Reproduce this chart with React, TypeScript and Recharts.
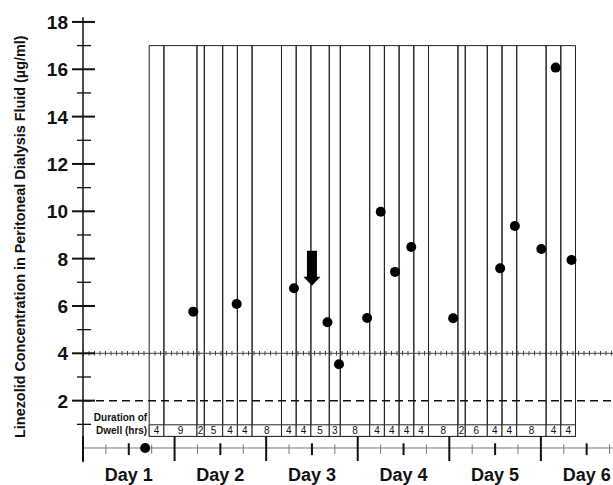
import {
  ComposedChart,
  XAxis,
  YAxis,
  Scatter,
  ReferenceArea,
  ReferenceLine,
  ReferenceDot,
} from "recharts";

const FONT = "'Liberation Sans', Arial, Helvetica, sans-serif";

// dwell durations (hrs), left to right, first dwell starts at hour 17
const FIRST_DWELL_START = 17;
const DWELL_HOURS = [4, 9, 2, 5, 4, 4, 8, 4, 4, 5, 3, 8, 4, 4, 4, 4, 8, 2, 6, 4, 4, 8, 4, 4];

// linezolid samples: time (hrs) and concentration (ug/ml)
const SAMPLE_HOURS = [15.9, 29, 40.8, 56.4, 65.5, 68.65, 76.3, 80, 83.9, 88.3, 99.7, 112.5, 116.5, 123.7, 127.6, 131.9];
const SAMPLE_CONC = [0, 5.76, 6.08, 6.75, 5.31, 3.54, 5.49, 9.98, 7.44, 8.49, 5.48, 7.59, 9.38, 8.41, 16.07, 7.94];

// time axis
const DAY_LABELS = ["Day 1", "Day 2", "Day 3", "Day 4", "Day 5", "Day 6"];
const DAY_NOONS = [12, 36, 60, 84, 108, 132];
const DAY_STARTS = [0, 24, 48, 72, 96, 120];
const SIX_HOUR_TICKS = [6, 18, 30, 42, 54, 66, 78, 90, 102, 114, 126, 138];

const Y_TICKS = [1, 2, 3, 4, 5, 6, 7, 8, 9, 10, 11, 12, 13, 14, 15, 16, 17, 18];
const TARGET_MIC = 4;
const LOWER_MIC = 2;
const BOX_TOP = 17;
const CELL_TOP = 0.98;
const CELL_BOTTOM = 0.49;
const ARROW_HOUR = 60;
const ARROW_TIP = 6.85;

const dwells = DWELL_HOURS.map((h, i) => {
  const start = FIRST_DWELL_START + DWELL_HOURS.slice(0, i).reduce((a, b) => a + b, 0);
  return { start, end: start + h, hours: h };
});

const samples = SAMPLE_HOURS.map((t, i) => ({ t, c: SAMPLE_CONC[i] }));

const YTick = (props: any) => {
  const { x, y, payload } = props;
  const v = payload.value;
  const major = v % 2 === 0;
  return (
    <g>
      <line
        x1={x - (major ? 11 : 6)}
        x2={x + (major ? 12 : 8)}
        y1={y}
        y2={y}
        stroke="#111"
        strokeWidth={major ? 2 : 1.3}
      />
      {major && (
        <text x={x - 15} y={y} dy={7} textAnchor="end" fontSize={19} fontWeight="bold" fill="#111" fontFamily={FONT}>
          {v}
        </text>
      )}
    </g>
  );
};

const DayTick = (props: any) => {
  const { x, y, index } = props;
  return (
    <text x={x} y={y} dy={19} textAnchor="middle" fontSize={18} fontWeight="bold" fill="#111" fontFamily={FONT}>
      {DAY_LABELS[index]}
    </text>
  );
};

const renderTitle = (props: any) => {
  const vb = props.viewBox;
  const cx = vb.x + 25;
  const cy = vb.y + vb.height / 2 - 3;
  return (
    <text
      x={cx}
      y={cy}
      transform={`rotate(-90, ${cx}, ${cy})`}
      textAnchor="middle"
      fontSize={14.4}
      fontWeight="bold"
      fill="#111"
      fontFamily={FONT}
    >
      Linezolid Concentration in Peritoneal Dialysis Fluid (µg/ml)
    </text>
  );
};

export default function App() {
  return (
    <div style={{ position: "absolute", left: 0, top: 0, width: 613, height: 485, background: "#fff" }}>
      <ComposedChart width={613} height={485} margin={{ top: 17.2, right: 0, bottom: 0, left: 0 }}>
        <XAxis
          xAxisId="day"
          type="number"
          dataKey="t"
          domain={[0, 138.9]}
          ticks={DAY_NOONS}
          axisLine={false}
          tickLine={false}
          tickSize={0}
          tickMargin={0}
          height={22.8}
          tick={<DayTick />}
          allowDataOverflow
        />
        <XAxis xAxisId="dwell" type="number" dataKey="t" domain={[-1.01, 143.2]} hide allowDataOverflow />
        <YAxis
          type="number"
          domain={[-0.6, 18.2]}
          ticks={Y_TICKS}
          width={83}
          tickSize={0}
          tickMargin={0}
          tickLine={false}
          axisLine={{ stroke: "#111", strokeWidth: 1.5 }}
          tick={<YTick />}
          interval={0}
          allowDataOverflow
          label={{ content: renderTitle }}
        />

        {dwells.map((d, i) => (
          <ReferenceArea
            key={`box-${i}`}
            xAxisId="dwell"
            x1={d.start}
            x2={d.end}
            y1={CELL_BOTTOM}
            y2={BOX_TOP}
            fill="none"
            stroke="#222"
            strokeWidth={1}
          />
        ))}
        {dwells.map((d, i) => (
          <ReferenceArea
            key={`cell-${i}`}
            xAxisId="dwell"
            x1={d.start}
            x2={d.end}
            y1={CELL_BOTTOM}
            y2={CELL_TOP}
            fill="#fff"
            fillOpacity={1}
            stroke="#222"
            strokeWidth={1}
            label={{ value: d.hours, position: "center", fontSize: 10, fill: "#111", fontFamily: FONT }}
          />
        ))}

        <ReferenceLine xAxisId="day" y={LOWER_MIC} stroke="#111" strokeWidth={1.5} strokeDasharray="8 5" />
        <ReferenceLine xAxisId="day" y={TARGET_MIC} stroke="#444" strokeWidth={1} />
        <ReferenceLine xAxisId="day" y={TARGET_MIC} stroke="#444" strokeWidth={4.5} strokeDasharray="1 4.5" />

        <ReferenceLine xAxisId="day" y={0} stroke="#777" strokeWidth={1} />
        {DAY_STARTS.map((h) => (
          <ReferenceLine
            key={`ds-${h}`}
            xAxisId="day"
            segment={[{ x: h, y: 0.5 }, { x: h, y: -0.55 }]}
            stroke="#111"
            strokeWidth={2}
          />
        ))}
        {DAY_NOONS.map((h) => (
          <ReferenceLine
            key={`dn-${h}`}
            xAxisId="day"
            segment={[{ x: h, y: 0.2 }, { x: h, y: -0.3 }]}
            stroke="#111"
            strokeWidth={2}
          />
        ))}
        {SIX_HOUR_TICKS.map((h) => (
          <ReferenceLine
            key={`d6-${h}`}
            xAxisId="day"
            segment={[{ x: h, y: 0.15 }, { x: h, y: -0.25 }]}
            stroke="#777"
            strokeWidth={1}
          />
        ))}

        <ReferenceDot
          xAxisId="dwell"
          x={FIRST_DWELL_START}
          y={(CELL_TOP + CELL_BOTTOM) / 2}
          r={0}
          shape={(p: any) => (
            <g fontFamily={FONT} fontSize={10} fontWeight="bold" fill="#111" textAnchor="end">
              <text x={p.cx - 2} y={p.cy - 9.5}>Duration of</text>
              <text x={p.cx - 2} y={p.cy + 3.5}>Dwell (hrs)</text>
            </g>
          )}
        />

        <ReferenceDot
          xAxisId="day"
          x={ARROW_HOUR}
          y={ARROW_TIP}
          r={0}
          shape={(p: any) => (
            <polygon
              points={`${p.cx},${p.cy} ${p.cx - 8.5},${p.cy - 9} ${p.cx - 5},${p.cy - 9} ${p.cx - 5},${p.cy - 35} ${p.cx + 5},${p.cy - 35} ${p.cx + 5},${p.cy - 9} ${p.cx + 8.5},${p.cy - 9}`}
              fill="#000"
            />
          )}
        />

        <Scatter
          xAxisId="dwell"
          data={samples}
          dataKey="c"
          isAnimationActive={false}
          shape={(p: any) => <circle cx={p.cx} cy={p.cy} r={5} fill="#000" />}
        />
      </ComposedChart>
    </div>
  );
}
